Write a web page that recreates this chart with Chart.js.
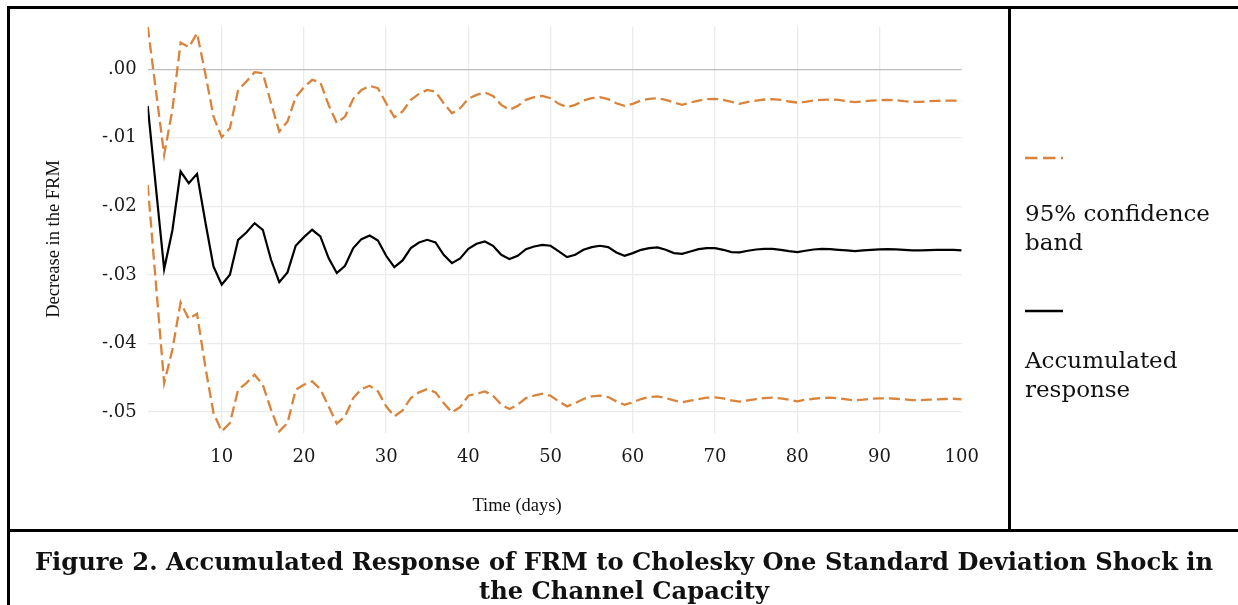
<!DOCTYPE html>
<html><head><meta charset="utf-8">
<script src="https://cdn.jsdelivr.net/npm/chart.js@4.4.1/dist/chart.umd.min.js"></script>
<style>
html,body{margin:0;padding:0;background:#fff;}
#wrap{position:relative;width:1238px;height:605px;overflow:hidden;background:#fff;}
#c{position:absolute;left:0;top:0;}
.ln{position:absolute;background:#000;}
.t{position:absolute;white-space:nowrap;color:#111;}
.leg{font-family:"DejaVu Serif",serif;font-size:23px;line-height:29px;color:#111;}
.ax{font-family:"Liberation Serif",serif;font-size:18.5px;line-height:20px;color:#111;text-align:center;}
#cap{left:10px;width:1228px;top:547px;text-align:center;font-family:"DejaVu Serif",serif;font-weight:bold;font-size:24.2px;line-height:29px;color:#111;}
</style></head><body>
<div id="wrap">
<canvas id="c" width="1238" height="605"></canvas>
<div class="ln" style="left:7px;top:6px;width:1231px;height:3px"></div>
<div class="ln" style="left:7px;top:6px;width:3px;height:599px"></div>
<div class="ln" style="left:1008px;top:6px;width:3px;height:525px"></div>
<div class="ln" style="left:7px;top:529px;width:1231px;height:3px"></div>
<svg class="t" style="left:1025px;top:150px" width="40" height="16"><line x1="0" y1="8" x2="38" y2="8" stroke="#d9843a" stroke-width="2.5" stroke-dasharray="12.5 5.5"/></svg>
<div class="t leg" style="left:1025px;top:198.5px">95% confidence<br>band</div>
<svg class="t" style="left:1025px;top:303px" width="40" height="16"><line x1="0" y1="8" x2="38" y2="8" stroke="#000" stroke-width="2.3"/></svg>
<div class="t leg" style="left:1025px;top:345.5px">Accumulated<br>response</div>
<div class="t ax" style="left:-47px;top:229px;width:200px;transform:rotate(-90deg);">Decrease in the FRM</div>
<div class="t ax" style="left:417px;top:494.5px;width:200px;">Time (days)</div>
<div class="t" id="cap">Figure 2. Accumulated Response of FRM to Cholesky One Standard Deviation Shock in<br>the Channel Capacity</div>
</div>
<script>
// x categories (days)
const days = Array.from({length: 100}, (_, i) => i + 1);
const xTicks = [10, 20, 30, 40, 50, 60, 70, 80, 90, 100];
const yTicks = [-0.05, -0.04, -0.03, -0.02, -0.01, 0.00];
const yTickLabels = ['-.05', '-.04', '-.03', '-.02', '-.01', '.00'];

const accumulatedResponse = [
 -0.00535,-0.01725,-0.02915,-0.02352,-0.01492,-0.01662,-0.01526,-0.02221,-0.02877,-0.03144,
 -0.02998,-0.02488,-0.02381,-0.02245,-0.02342,-0.02779,-0.03105,-0.02964,-0.02575,-0.02449,
 -0.02342,-0.02439,-0.02755,-0.02974,-0.02867,-0.02609,-0.02478,-0.02425,-0.02498,-0.02721,
 -0.02886,-0.02789,-0.02609,-0.02527,-0.02488,-0.02527,-0.02707,-0.02828,-0.02760,-0.02620,
 -0.02546,-0.02512,-0.02575,-0.02706,-0.02770,-0.02721,-0.02624,-0.02585,-0.02561,-0.02575,
 -0.02658,-0.02740,-0.02706,-0.02634,-0.02595,-0.02575,-0.02595,-0.02672,-0.02721,-0.02682,
 -0.02634,-0.02609,-0.02600,-0.02634,-0.02682,-0.02692,-0.02658,-0.02624,-0.02609,-0.02609,
 -0.02634,-0.02668,-0.02672,-0.02648,-0.02629,-0.02619,-0.02619,-0.02634,-0.02653,-0.02668,
 -0.02648,-0.02629,-0.02619,-0.02624,-0.02634,-0.02643,-0.02653,-0.02643,-0.02634,-0.02629,
 -0.02624,-0.02629,-0.02634,-0.02643,-0.02643,-0.02638,-0.02634,-0.02634,-0.02634,-0.02643
];
const upperBand = [
  0.00622,-0.00311,-0.01249,-0.00593, 0.00389, 0.00321, 0.00525,-0.00058,-0.00690,-0.00991,
 -0.00860,-0.00301,-0.00180,-0.00044,-0.00058,-0.00496,-0.00909,-0.00763,-0.00408,-0.00265,
 -0.00156,-0.00194,-0.00520,-0.00787,-0.00690,-0.00432,-0.00301,-0.00243,-0.00277,-0.00496,
 -0.00700,-0.00617,-0.00447,-0.00360,-0.00301,-0.00326,-0.00496,-0.00641,-0.00569,-0.00432,
 -0.00374,-0.00340,-0.00389,-0.00520,-0.00593,-0.00535,-0.00447,-0.00408,-0.00389,-0.00423,
 -0.00505,-0.00554,-0.00520,-0.00457,-0.00423,-0.00408,-0.00437,-0.00496,-0.00535,-0.00505,
 -0.00457,-0.00432,-0.00423,-0.00447,-0.00486,-0.00520,-0.00486,-0.00457,-0.00437,-0.00432,
 -0.00447,-0.00476,-0.00505,-0.00476,-0.00457,-0.00442,-0.00437,-0.00447,-0.00471,-0.00486,
 -0.00476,-0.00457,-0.00447,-0.00442,-0.00447,-0.00466,-0.00481,-0.00471,-0.00457,-0.00452,
 -0.00447,-0.00452,-0.00466,-0.00476,-0.00476,-0.00466,-0.00462,-0.00457,-0.00457,-0.00466
];
const lowerBand = [
 -0.01686,-0.03129,-0.04577,-0.04091,-0.03401,-0.03644,-0.03567,-0.04334,-0.05015,-0.05282,
 -0.05160,-0.04674,-0.04577,-0.04456,-0.04602,-0.04966,-0.05282,-0.05160,-0.04674,-0.04601,
 -0.04553,-0.04665,-0.04917,-0.05170,-0.05063,-0.04796,-0.04665,-0.04616,-0.04699,-0.04917,
 -0.05063,-0.04976,-0.04796,-0.04713,-0.04665,-0.04713,-0.04869,-0.05005,-0.04927,-0.04762,
 -0.04733,-0.04699,-0.04762,-0.04893,-0.04956,-0.04893,-0.04796,-0.04762,-0.04733,-0.04762,
 -0.04844,-0.04917,-0.04869,-0.04810,-0.04771,-0.04762,-0.04781,-0.04844,-0.04893,-0.04859,
 -0.04810,-0.04781,-0.04772,-0.04796,-0.04830,-0.04859,-0.04835,-0.04810,-0.04791,-0.04786,
 -0.04801,-0.04830,-0.04849,-0.04830,-0.04810,-0.04796,-0.04791,-0.04801,-0.04820,-0.04844,
 -0.04820,-0.04806,-0.04796,-0.04791,-0.04801,-0.04815,-0.04830,-0.04820,-0.04806,-0.04801,
 -0.04801,-0.04806,-0.04815,-0.04825,-0.04825,-0.04820,-0.04815,-0.04810,-0.04806,-0.04815
];

const ORANGE = '#d9843a';
const tickFont = {family: 'DejaVu Serif', size: 18};

new Chart(document.getElementById('c'), {
  type: 'line',
  data: {
    labels: days,
    datasets: [
      {label: 'Accumulated response', data: accumulatedResponse, borderColor: '#000', borderWidth: 2.2, pointRadius: 0, tension: 0, fill: false},
      {label: '95% confidence band', data: upperBand, borderColor: ORANGE, borderWidth: 2.3, borderDash: [11, 5], pointRadius: 0, tension: 0, fill: false},
      {label: '95% confidence band (lower)', data: lowerBand, borderColor: ORANGE, borderWidth: 2.3, borderDash: [11, 5], pointRadius: 0, tension: 0, fill: false}
    ]
  },
  options: {
    responsive: false,
    animation: false,
    devicePixelRatio: 1,
    layout: {padding: {left: 0, top: 26.7, right: 276.3, bottom: 71.7}},
    plugins: {legend: {display: false}, tooltip: {enabled: false}, title: {display: false}},
    scales: {
      x: {
        type: 'linear', min: 1, max: 100,
        afterBuildTicks: s => { s.ticks = xTicks.map(v => ({value: v})); },
        afterFit: s => { s.height = 100; },
        grid: {color: c => (c.tick && c.tick.value === 100) ? 'rgba(0,0,0,0)' : '#ebebeb', lineWidth: 1.3, drawTicks: false},
        border: {display: false},
        ticks: {font: tickFont, color: '#1a1a1a', padding: 13, maxRotation: 0, autoSkip: false, callback: v => String(v)}
      },
      y: {
        min: -0.0531, max: 0.0062,
        afterBuildTicks: s => { s.ticks = yTicks.map(v => ({value: v})); },
        afterFit: s => { s.width = 147.7; },
        grid: {color: c => (c.tick && c.tick.value === 0) ? '#bdbdbd' : '#ebebeb', lineWidth: 1.3, drawTicks: false},
        border: {display: false},
        ticks: {font: tickFont, color: '#1a1a1a', padding: 11, autoSkip: false, callback: (v, i) => yTickLabels[i]}
      }
    }
  }
});
</script>
</body></html>
